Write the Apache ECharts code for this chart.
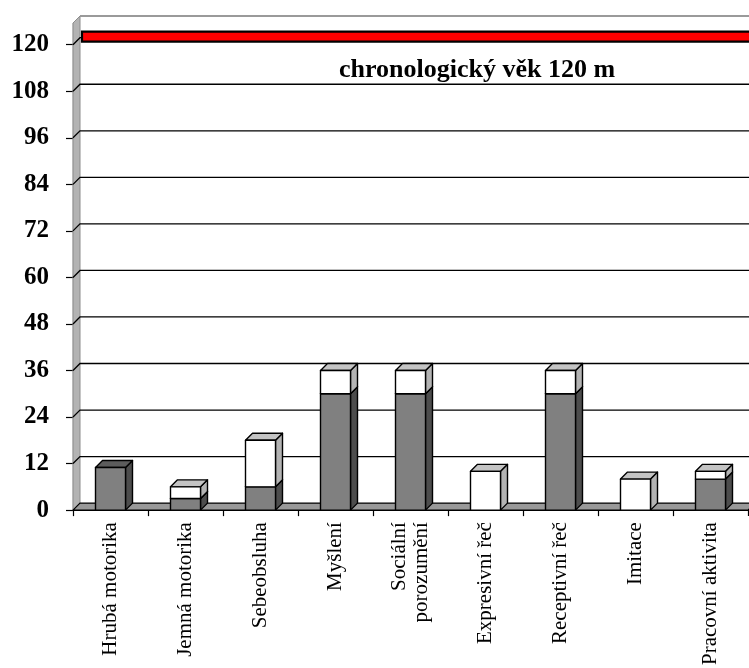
<!DOCTYPE html>
<html>
<head>
<meta charset="utf-8">
<script src="https://cdn.jsdelivr.net/npm/echarts@6/dist/echarts.min.js"></script>
<style>
  html, body { margin: 0; padding: 0; background: #fff; }
  #chart { width: 749px; height: 668px; }
</style>
</head>
<body>
<div id="chart"></div>
<script>
// Development profile: achieved levels (months) per domain
const categories = ['Hrubá motorika', 'Jemná motorika', 'Sebeobsluha', 'Myšlení',
  'Sociální\nporozumění', 'Expresivní řeč', 'Receptivní řeč', 'Imitace', 'Pracovní aktivita'];
const darkValues  = [11, 3, 6, 30, 30, 0, 30, 0, 8];   // lower (gray) segment
const whiteValues = [0, 3, 12, 6, 6, 10, 6, 8, 2];     // upper (white) segment
const yTicks = [0, 12, 24, 36, 48, 60, 72, 84, 96, 108, 120];
const chronologicalAge = 120;
const ageLabel = 'chronologický věk 120 m';

const DEPTH = 7;           // pseudo-3D depth offset in px
const SERIF = '"Liberation Serif", "Times New Roman", serif';

const chart = echarts.init(document.getElementById('chart'));

// Stacked segment data: [categoryIndex, base, top]
const darkData = darkValues.map((v, i) => [i, 0, v]);
const whiteData = whiteValues.map((v, i) => [i, darkValues[i], darkValues[i] + whiteValues[i]]);

function box(colors) {
  return function (params, api) {
    const idx = api.value(0), base = api.value(1), top = api.value(2);
    if (!(top > base)) return null;
    const pb = api.coord([idx, base]);
    const pt = api.coord([idx, top]);
    const bw = api.size([1, 0])[0] * 0.4;
    const x0 = pb[0] - bw / 2, x1 = x0 + bw, yb = pb[1], yt = pt[1];
    const stroke = { stroke: '#000', lineWidth: 1.4, lineJoin: 'round' };
    return {
      type: 'group',
      children: [
        { type: 'polygon', shape: { points: [[x1, yb], [x1 + DEPTH, yb - DEPTH], [x1 + DEPTH, yt - DEPTH], [x1, yt]] },
          style: Object.assign({ fill: colors.side }, stroke) },
        { type: 'polygon', shape: { points: [[x0, yt], [x1, yt], [x1 + DEPTH, yt - DEPTH], [x0 + DEPTH, yt - DEPTH]] },
          style: Object.assign({ fill: colors.top }, stroke) },
        { type: 'rect', shape: { x: x0, y: yt, width: bw, height: yb - yt },
          style: Object.assign({ fill: colors.front }, stroke) }
      ]
    };
  };
}

const option = {
  animation: false,
  backgroundColor: '#fff',
  grid: { left: 73, right: 1, top: 23, bottom: 156 },
  xAxis: {
    type: 'category',
    data: categories,
    boundaryGap: true,
    axisLine: { lineStyle: { color: '#000', width: 1.2 } },
    axisTick: { show: true, length: 6, lineStyle: { color: '#000', width: 1.2 } },
    axisLabel: {
      interval: 0, rotate: 90, margin: 12,
      fontFamily: SERIF, fontSize: 21, color: '#000', lineHeight: 22
    },
    splitLine: { show: false }
  },
  yAxis: {
    type: 'value',
    min: 0, max: 125.6, interval: 12,
    axisLine: { show: true, lineStyle: { color: '#000', width: 1.2 } },
    axisTick: { show: true, length: 7, customValues: yTicks, lineStyle: { color: '#000', width: 1.2 } },
    axisLabel: {
      customValues: yTicks, margin: 24,
      fontFamily: SERIF, fontSize: 25, fontWeight: 'bold', color: '#000'
    },
    splitLine: { show: false }
  },
  series: [
    // left side wall and top edge of the back wall
    {
      type: 'custom', silent: true, clip: false,
      data: [[0]],
      renderItem: function (params, api) {
        const cs = params.coordSys;
        const x = cs.x, y = cs.y, w = cs.width, h = cs.height;
        return {
          type: 'group',
          children: [
            { type: 'polygon', shape: { points: [[x, y], [x + DEPTH, y - DEPTH], [x + DEPTH, y + h - DEPTH], [x, y + h]] },
              style: { fill: '#b3b3b3', stroke: '#8c8c8c', lineWidth: 1 } },
            { type: 'line', shape: { x1: x + DEPTH, y1: y - DEPTH, x2: x + w + DEPTH, y2: y - DEPTH },
              style: { stroke: '#9a9a9a', lineWidth: 2 } }
          ]
        };
      }
    },
    // horizontal grid lines on the back wall
    {
      type: 'custom', silent: true, clip: false,
      data: yTicks.filter(v => v > 0).map(v => [0, v]),
      renderItem: function (params, api) {
        const cs = params.coordSys;
        const yy = api.coord([0, api.value(1)])[1];
        return {
          type: 'polyline',
          shape: { points: [[cs.x, yy], [cs.x + DEPTH, yy - DEPTH], [cs.x + cs.width + DEPTH, yy - DEPTH]] },
          style: { stroke: '#000', lineWidth: 1.3, fill: null }
        };
      }
    },
    // floor
    {
      type: 'custom', silent: true, clip: false,
      data: [[0]],
      renderItem: function (params, api) {
        const cs = params.coordSys;
        const yb = cs.y + cs.height;
        return {
          type: 'polygon',
          shape: { points: [[cs.x, yb], [cs.x + DEPTH, yb - DEPTH], [cs.x + cs.width + DEPTH, yb - DEPTH], [cs.x + cs.width, yb]] },
          style: { fill: '#999999', stroke: '#000', lineWidth: 1.2 }
        };
      }
    },
    // chronological age reference band and its caption
    {
      type: 'custom', silent: true, clip: false,
      data: [[0, chronologicalAge]],
      renderItem: function (params, api) {
        const cs = params.coordSys;
        const yy = api.coord([0, api.value(1)])[1] - DEPTH;
        const yText = api.coord([0, api.value(1) - 6.6])[1];
        return {
          type: 'group',
          children: [
            { type: 'rect', shape: { x: cs.x + DEPTH + 2, y: yy - 6, width: cs.width + 10, height: 10 },
              style: { fill: '#ff0000', stroke: '#000', lineWidth: 2.2 } },
            { type: 'text', x: 339, y: yText,
              style: { text: ageLabel, fontFamily: SERIF, fontSize: 26, fontWeight: 'bold',
                       fill: '#000', align: 'left', verticalAlign: 'middle' } }
          ]
        };
      }
    },
    {
      name: 'dolní',
      type: 'custom', clip: false,
      data: darkData,
      renderItem: box({ front: '#808080', side: '#4d4d4d', top: '#5c5c5c' })
    },
    {
      name: 'horní',
      type: 'custom', clip: false,
      data: whiteData,
      renderItem: box({ front: '#ffffff', side: '#b3b3b3', top: '#c4c4c4' })
    }
  ]
};

chart.setOption(option);
</script>
</body>
</html>
